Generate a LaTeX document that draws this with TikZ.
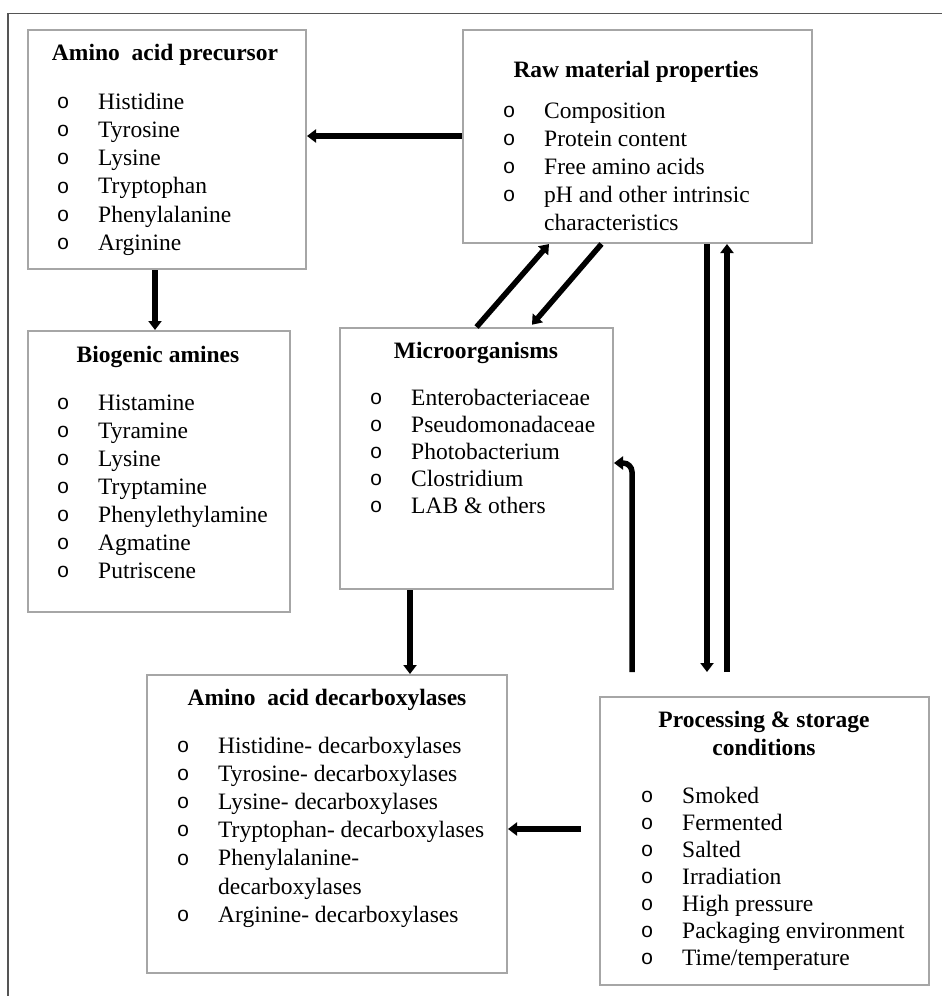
\documentclass[tikz,border=0pt]{standalone}
\usepackage{fontspec}
\setmainfont{Liberation Serif}
\newfontfamily\bulfont{Liberation Mono}
\usetikzlibrary{arrows.meta,calc}
\definecolor{boxgray}{RGB}{166,166,166}
\definecolor{framecol}{RGB}{85,85,85}
\newcommand\itm[1]{\makebox[0pt]{\raisebox{0.8pt}{\bulfont\fontsize{21}{21}\selectfont o}}\hspace{35pt}#1}
\newcommand\cont[1]{\makebox[0pt]{}\hspace{35pt}#1}
\begin{document}
\begin{tikzpicture}[x=1pt,y=-1pt,
 box/.style={draw=boxgray,line width=2pt,rectangle,inner sep=0pt},
 arr/.style={line width=5.5pt,-{Triangle[width=13pt,length=9pt]}},
 ttl/.style={font=\bfseries\fontsize{23.5}{28}\selectfont,anchor=base,inner sep=0pt},
 lst/.style={anchor=base west,inner sep=0pt,font=\fontsize{23.5}{#1}\selectfont}]
\useasboundingbox (0,0) rectangle (942,996);
\draw[framecol,line width=1.3pt] (8,996) -- (8,13.5) -- (942,13.5);
% boxes
\node[box,minimum width=278pt,minimum height=239pt] (b1) at (167,149.5) {};
\node[box,minimum width=349pt,minimum height=213pt] (b2) at (637.5,136.5) {};
\node[box,minimum width=262pt,minimum height=281pt] (b3) at (159,471.5) {};
\node[box,minimum width=273pt,minimum height=261pt] (b4) at (476.5,458.5) {};
\node[box,minimum width=360pt,minimum height=298pt] (b5) at (327,824) {};
\node[box,minimum width=329pt,minimum height=288pt] (b6) at (764.5,841) {};
% titles
\node[ttl] (t1) at (165,60) {Amino\ \ acid precursor};
\node[ttl] (t2) at (636,77) {Raw material properties};
\node[ttl] (t3) at (158,362) {Biogenic amines};
\node[ttl] (t4) at (476,358) {Microorganisms};
\node[ttl] (t5) at (327,705) {Amino\ \ acid decarboxylases};
\node[ttl] (t6) at (764,727) {\begin{tabular}[t]{@{}c@{}}Processing \& storage\\conditions\end{tabular}};
% lists
\node[lst=28.3] (l1) at (63,109) {\begin{tabular}[t]{@{}l@{}}
\itm{Histidine}\\\itm{Tyrosine}\\\itm{Lysine}\\\itm{Tryptophan}\\\itm{Phenylalanine}\\\itm{Arginine}\end{tabular}};
\node[lst=28] (l2) at (509,118) {\begin{tabular}[t]{@{}l@{}}
\itm{Composition}\\\itm{Protein content}\\\itm{Free amino acids}\\\itm{pH and other intrinsic}\\\cont{characteristics}\end{tabular}};
\node[lst=28] (l3) at (63,410) {\begin{tabular}[t]{@{}l@{}}
\itm{Histamine}\\\itm{Tyramine}\\\itm{Lysine}\\\itm{Tryptamine}\\\itm{Phenylethylamine}\\\itm{Agmatine}\\\itm{Putriscene}\end{tabular}};
\node[lst=27] (l4) at (376,405) {\begin{tabular}[t]{@{}l@{}}
\itm{Enterobacteriaceae}\\\itm{Pseudomonadaceae}\\\itm{Photobacterium}\\\itm{Clostridium}\\\itm{LAB \& others}\end{tabular}};
\node[lst=28.2] (l5) at (183,753) {\begin{tabular}[t]{@{}l@{}}
\itm{Histidine- decarboxylases}\\\itm{Tyrosine- decarboxylases}\\\itm{Lysine- decarboxylases}\\\itm{Tryptophan- decarboxylases}\\\itm{Phenylalanine-}\\\cont{decarboxylases}\\\itm{Arginine- decarboxylases}\end{tabular}};
\node[lst=27] (l6) at (647,803) {\begin{tabular}[t]{@{}l@{}}
\itm{Smoked}\\\itm{Fermented}\\\itm{Salted}\\\itm{Irradiation}\\\itm{High pressure}\\\itm{Packaging environment}\\\itm{Time/temperature}\end{tabular}};
% connectors
\draw[arr] ([yshift=0.5pt]b2.west) -- ([yshift=0.5pt]b2.west -| b1.east);
\draw[arr] ([xshift=-12pt]b1.south) -- ([xshift=-12pt]b1.south |- b3.north);
\draw[arr] (b4.north) -- ([xshift=-88.5pt]b2.south);
\draw[arr,shorten >=3pt] ([xshift=-36pt]b2.south) -- ([xshift=53.5pt]b4.north);
\draw[arr] ([xshift=-66.5pt]b4.south) -- ([xshift=-66.5pt]b4.south |- b5.north);
\draw[arr,shorten >=24pt] ([xshift=69.5pt]b2.south) -- ([xshift=69.5pt]b2.south |- b6.north);
\draw[arr,shorten <=24pt] ([xshift=-37.5pt]b6.north) -- ([xshift=-37.5pt]b6.north |- b2.south);
\draw[arr,rounded corners=9pt,shorten <=24pt] ([xshift=-132.5pt]b6.north) |- ([yshift=-4.5pt]b4.east);
\draw[arr,shorten <=18pt] ([yshift=12pt]b6.west) -- ([yshift=12pt]b6.west -| b5.east);
\end{tikzpicture}
\end{document}
